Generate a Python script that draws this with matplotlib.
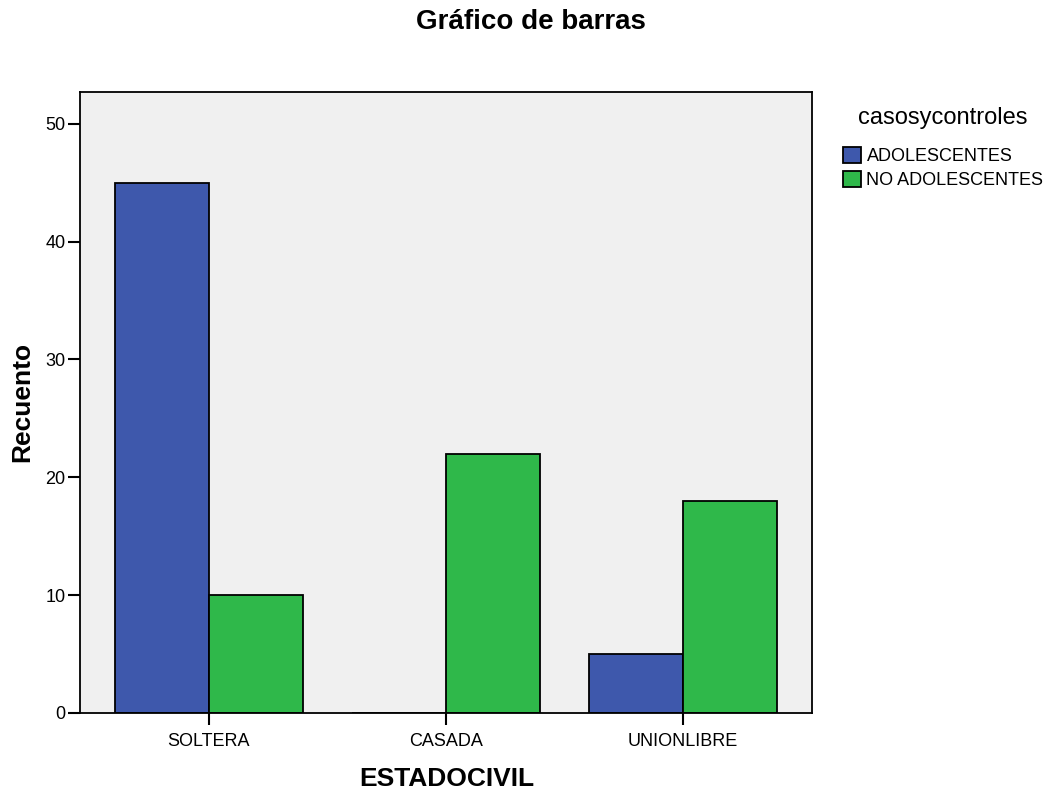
import matplotlib
matplotlib.use("Agg")
import matplotlib.pyplot as plt
import numpy as np

plt.rcParams['font.family'] = ['Liberation Sans', 'DejaVu Sans']

categories = ["SOLTERA", "CASADA", "UNIONLIBRE"]
series_names = ["ADOLESCENTES", "NO ADOLESCENTES"]
adolescentes = [45, 0, 5]
no_adolescentes = [10, 22, 18]
y_ticks = [0, 10, 20, 30, 40, 50]

colors = ["#3e58ac", "#2fb84a"]

W, H = 1051, 796
fig = plt.figure(figsize=(W / 100, H / 100), dpi=100)
ax = fig.add_axes([0.0761, 0.1043, 0.6965, 0.7802])
ax.set_facecolor("#f0f0f0")

x = np.arange(len(categories))
w = 0.397
b1 = ax.bar(x - w / 2, adolescentes, width=w, color=colors[0],
            edgecolor="black", linewidth=1.3, label=series_names[0], zorder=2)
b2 = ax.bar(x + w / 2, no_adolescentes, width=w, color=colors[1],
            edgecolor="black", linewidth=1.3, label=series_names[1], zorder=2)

ax.set_xlim(-0.544, 2.544)
ax.set_ylim(0, 52.7)
ax.set_yticks(y_ticks)
ax.set_xticks(x)
ax.set_xticklabels(categories)
ax.tick_params(axis="both", direction="out", length=8.5, width=1.5,
               color="black", labelsize=13)
ax.tick_params(axis="x", pad=6)
ax.tick_params(axis="y", pad=2)
for s in ax.spines.values():
    s.set_linewidth(1.3)
    s.set_color("black")

ax.set_xlabel("ESTADOCIVIL", fontsize=19, fontweight="bold", va="center")
ax.xaxis.set_label_coords(0.501, -0.106)
ax.set_ylabel("Recuento", fontsize=19, fontweight="bold", va="center")
ax.yaxis.set_label_coords(-0.079, 0.501)
fig.text(0.505, 1 - 22 / H, "Gráfico de barras", fontsize=20,
         fontweight="bold", ha="center", va="center")

# legend: title placed separately, entries below it
fig.text(943 / W, 1 - 118 / H, "casosycontroles", fontsize=17,
         ha="center", va="center")
fig.legend(handles=[b1, b2], labels=series_names,
           loc="upper left", bbox_to_anchor=(843 / W, 1 - 147 / H),
           frameon=False, fontsize=13, handlelength=1.0, handleheight=1.0,
           handletextpad=0.3, labelspacing=0.33, borderaxespad=0,
           borderpad=0)

fig.savefig("out.png", dpi=100)
